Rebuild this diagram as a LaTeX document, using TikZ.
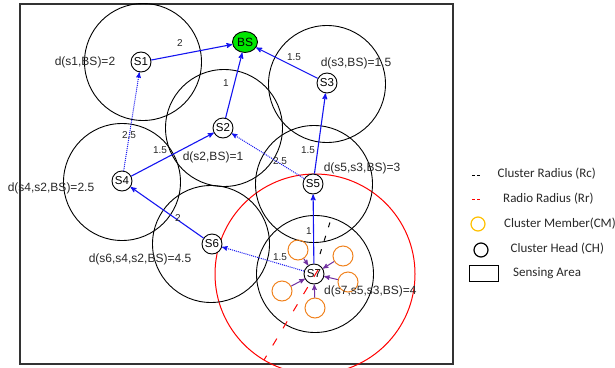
\documentclass[tikz,border=0pt]{standalone}
\usepackage{fontspec}
\setmainfont{Liberation Sans}
\newfontfamily\legendfont{Carlito}
\usetikzlibrary{arrows}
\usetikzlibrary{shapes.geometric}

\definecolor{bsgreen}{RGB}{0,230,0}
\definecolor{cmorange}{RGB}{240,130,30}
\definecolor{cmyellow}{RGB}{255,192,0}
\definecolor{hopblue}{RGB}{20,20,240}
\definecolor{cmpurple}{RGB}{112,48,160}
\definecolor{txtgray}{RGB}{40,40,40}

\begin{document}
\begin{tikzpicture}[x=1pt, y=-1pt
  , sensor/.style={ circle, draw, fill=white, line width=0.9pt
                  , minimum size=20pt, inner sep=0pt
                  , font=\fontsize{11.5}{12}\selectfont }
  , member/.style={ circle, draw=cmorange, line width=1pt
                  , minimum size=20pt, inner sep=0pt }
  , reach/.style={ line width=0.9pt }
  , hoplink/.style={ -stealth', hopblue, line width=1.1pt }
  , backuplink/.style={ -stealth', hopblue, line width=1pt, densely dotted }
  , memberlink/.style={ -stealth', cmpurple, line width=1pt }
  , cost/.style={ text=txtgray, font=\fontsize{10}{11}\selectfont, inner sep=1pt }
  , dist/.style={ text=txtgray, font=\fontsize{12}{14}\selectfont, inner sep=0pt }
  , keytext/.style={ anchor=west, text=txtgray, inner sep=0pt
                   , font=\legendfont\fontsize{13}{15}\selectfont }
  ]

  \useasboundingbox (0,0) rectangle (615,367);

  % sensing area
  \draw [line width=1.2pt, black!80] (20,4) rectangle (453,364);

  % radio radius of s7
  \begin{scope}
    \clip (0,0) rectangle (615,367);
    \draw [red, line width=1pt] (315,274) circle [radius=100pt];
  \end{scope}

  % cluster radius of every head
  \foreach \cx/\cy in {143/62, 224/128, 327/84, 122/182, 314/184, 211/244, 315/274}
    \draw [reach] (\cx,\cy) circle [radius=58.5pt];

  % heads and base station
  \node (bs) [ellipse, draw, fill=bsgreen, line width=0.9pt, minimum width=25pt
             , minimum height=21pt, inner sep=0pt
             , font=\fontsize{12}{12}\selectfont] at (245,42) {BS};
  \node (s1) [sensor] at (141,62)  {S1};
  \node (s2) [sensor] at (223,128) {S2};
  \node (s3) [sensor] at (327,83)  {S3};
  \node (s4) [sensor] at (122,181) {S4};
  \node (s5) [sensor] at (313,184) {S5};
  \node (s6) [sensor] at (212,244) {S6};
  \node (s7) [sensor] at (314,274) {S7};

  % members of s7
  \node (m1) [member] at (298,250) {};
  \node (m2) [member] at (343,256) {};
  \node (m3) [member] at (348,282) {};
  \node (m4) [member] at (282,291) {};
  \node (m5) [member] at (315,308) {};

  \foreach \m in {m1,m2,m3,m4,m5}
    \draw [memberlink] (\m) -- (s7);

  % routes
  \draw [hoplink] (s1) -- (bs);
  \draw [hoplink] (s2) -- (bs);
  \draw [hoplink] (s3) -- (bs);
  \draw [backuplink] (s4) -- (s1);
  \draw [hoplink] (s4) -- (s2);
  \draw [backuplink] (s5) -- (s2);
  \draw [hoplink] (s5) -- (s3);
  \draw [hoplink] (s6) -- (s4);
  \draw [hoplink] (s7) -- (s5);
  \draw [backuplink] (s7) -- (s6);

  % link costs
  \node (c1)  [cost] at (180,43)  {2};
  \node (c2)  [cost] at (226,83)  {1};
  \node (c3)  [cost] at (294,57)  {1.5};
  \node (c4)  [cost] at (129,135) {2.5};
  \node (c5)  [cost] at (160,150) {1.5};
  \node (c6)  [cost] at (280,161) {2.5};
  \node (c7)  [cost] at (308,150) {1.5};
  \node (c8)  [cost] at (178,218) {2};
  \node (c9)  [cost] at (309,231) {1};
  \node (c10) [cost] at (280,257) {1.5};

  % path distances
  \node (d1) [dist] at (85,62)   {d(s1,BS)=2};
  \node (d3) [dist] at (356,63)  {d(s3,BS)=1.5};
  \node (d2) [dist] at (213,157) {d(s2,BS)=1};
  \node (d5) [dist] at (362,168) {d(s5,s3,BS)=3};
  \node (d4) [dist] at (51,188)  {d(s4,s2,BS)=2.5};
  \node (d6) [dist] at (140,259) {d(s6,s4,s2,BS)=4.5};
  \node (d7) [dist, anchor=west] at (324,291) {d(s7,s5,s3,BS)=4};

  % radii of s7
  \coordinate (rc0) at (320,254);
  \coordinate (rc1) at (331,219);
  \coordinate (rr0) at (318,270);
  \coordinate (rr1) at (264,360);
  \draw [line width=1pt, dash pattern=on 5pt off 9pt] (rc0) -- (rc1);
  \draw [red, line width=1pt, dash pattern=on 8pt off 12pt] (rr0) -- (rr1);

  % legend
  \coordinate (k1a) at (472,175);
  \coordinate (k1b) at (480,175);
  \coordinate (k2a) at (472,199);
  \coordinate (k2b) at (480,199);
  \draw [line width=1pt, dash pattern=on 3pt off 2pt] (k1a) -- (k1b);
  \draw [red, line width=1pt, dash pattern=on 3pt off 2pt] (k2a) -- (k2b);
  \node (k3) [circle, draw=cmyellow, line width=1.2pt, minimum size=14pt, inner sep=0pt] at (478,224) {};
  \node (k4) [circle, draw, line width=1.2pt, minimum size=14pt, inner sep=0pt] at (481,250) {};
  \node (k5) [draw, line width=1.2pt, minimum width=29pt, minimum height=16pt, inner sep=0pt] at (484,273.5) {};

  \node (l1) [keytext] at (497.5,174) {Cluster Radius (Rc)};
  \node (l2) [keytext] at (503,199)   {Radio Radius (Rr)};
  \node (l3) [keytext] at (504,224)   {Cluster Member(CM)};
  \node (l4) [keytext] at (510.5,249) {Cluster Head (CH)};
  \node (l5) [keytext] at (513,273)   {Sensing Area};

\end{tikzpicture}
\end{document}
